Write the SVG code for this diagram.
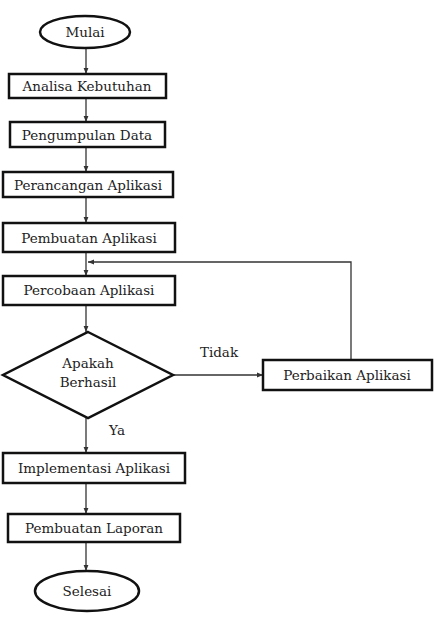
<svg xmlns="http://www.w3.org/2000/svg" width="437" height="619" viewBox="0 0 437 619">
<defs>
<marker id="ah" viewBox="0 0 10 10" refX="10" refY="5" markerWidth="6" markerHeight="6" orient="auto" markerUnits="userSpaceOnUse">
<path d="M0,1 L10,5 L0,9 z" fill="#333"/>
</marker>
<style>
.box{fill:#fff;stroke:#111;stroke-width:2.5}
.term{fill:#fff;stroke:#111;stroke-width:2.5}
.t{font-family:'DejaVu Serif',serif;font-size:13.5px;fill:#222;text-anchor:middle}
.c{fill:none;stroke:#333;stroke-width:1.3}
</style>
</defs>
<rect width="437" height="619" fill="#fff"/>
<g id="connectors">
<line class="c" x1="86" y1="48" x2="86" y2="74" marker-end="url(#ah)"/>
<line class="c" x1="86" y1="98" x2="86" y2="122" marker-end="url(#ah)"/>
<line class="c" x1="86" y1="147" x2="86" y2="172" marker-end="url(#ah)"/>
<line class="c" x1="86" y1="197" x2="86" y2="223" marker-end="url(#ah)"/>
<line class="c" x1="86" y1="252" x2="86" y2="276" marker-end="url(#ah)"/>
<line class="c" x1="86" y1="305" x2="86" y2="332" marker-end="url(#ah)"/>
<polyline class="c" points="351,360 351,262 88,262" marker-end="url(#ah)"/>
<line class="c" x1="173" y1="375" x2="263" y2="375" marker-end="url(#ah)"/>
<line class="c" x1="86" y1="418" x2="86" y2="453" marker-end="url(#ah)"/>
<line class="c" x1="86" y1="483" x2="86" y2="514" marker-end="url(#ah)"/>
<line class="c" x1="86" y1="542" x2="86" y2="571" marker-end="url(#ah)"/>
<text class="t" x="219" y="357">Tidak</text>
<text class="t" x="117" y="435">Ya</text>
</g>
<g id="mulai"><ellipse class="term" cx="85" cy="32" rx="45" ry="16"/><text class="t" x="85" y="37">Mulai</text></g>
<g id="analisa"><rect class="box" x="9" y="74" width="157" height="24"/><text class="t" x="87" y="91">Analisa Kebutuhan</text></g>
<g id="pengumpulan"><rect class="box" x="10" y="122" width="155" height="25"/><text class="t" x="87" y="140">Pengumpulan Data</text></g>
<g id="perancangan"><rect class="box" x="3" y="172" width="170" height="25"/><text class="t" x="88" y="190">Perancangan Aplikasi</text></g>
<g id="pembuatan"><rect class="box" x="3" y="223" width="172" height="29"/><text class="t" x="89" y="243">Pembuatan Aplikasi</text></g>
<g id="percobaan"><rect class="box" x="3" y="276" width="172" height="29"/><text class="t" x="89" y="295">Percobaan Aplikasi</text></g>
<g id="keputusan"><polygon class="box" points="88,332 173,375 88,418 3,375"/><text class="t" x="88" y="368">Apakah</text><text class="t" x="88" y="387">Berhasil</text></g>
<g id="perbaikan"><rect class="box" x="263" y="360" width="169" height="30"/><text class="t" x="347" y="380">Perbaikan Aplikasi</text></g>
<g id="implementasi"><rect class="box" x="3" y="453" width="182" height="30"/><text class="t" x="94" y="473">Implementasi Aplikasi</text></g>
<g id="laporan"><rect class="box" x="8" y="514" width="172" height="28"/><text class="t" x="94" y="533">Pembuatan Laporan</text></g>
<g id="selesai"><ellipse class="term" cx="87" cy="591" rx="52" ry="20"/><text class="t" x="87" y="596">Selesai</text></g>
</svg>
